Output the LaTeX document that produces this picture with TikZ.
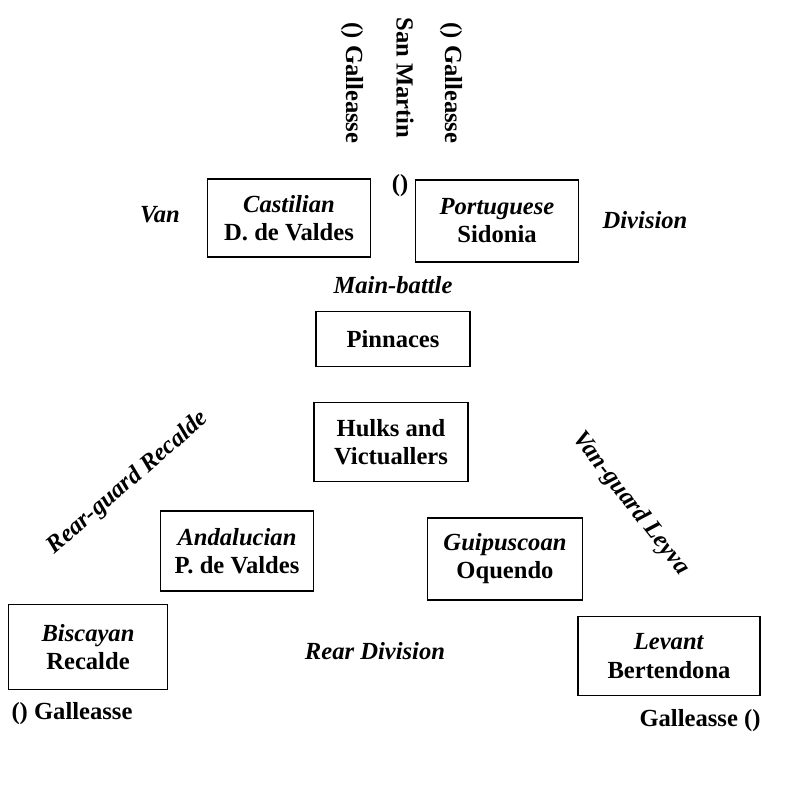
\documentclass[tikz,border=0pt]{standalone}
\usepackage{fontspec}
\setmainfont{Liberation Serif}
\usetikzlibrary{positioning}

\tikzset{
    squadron/.style={draw, line width=1.1pt, align=center, font=\bfseries\fontsize{14}{16}\selectfont, inner sep=2pt},
    wing/.style={font=\bfseries\itshape\fontsize{14}{16}\selectfont},
    ship/.style={font=\bfseries\fontsize{14}{16}\selectfont}
}

\begin{document}
\begin{tikzpicture}[x=0.02cm, y=-0.02cm]
    \useasboundingbox (0,0) rectangle (800,795);

    % Flagship and galleasses ahead
    \node[ship, rotate=-90] (galTL) at (352,83) {() Galleasse};
    \node[ship, rotate=-90] (flag) at (405,78) {San Martin};
    \node[ship, rotate=-90] (galTR) at (451,83) {() Galleasse};

    % Main-battle
    \node[squadron, minimum width=3.26cm, minimum height=1.56cm] (cast) at (289,218) {\textit{Castilian}\\D. de Valdes};
    \node[squadron, minimum width=3.26cm, minimum height=1.64cm] (port) at (497,221) {\textit{Portuguese}\\Sidonia};
    \node[ship] (gap) at (400,186) {()};
    \node[wing] (van) at (160,215) {Van};
    \node[wing] (divn) at (645,220) {Division};
    \node[wing] (main) at (393,285) {Main-battle};

    % Centre
    \node[squadron, minimum width=3.08cm, minimum height=1.1cm] (pinn) at (393,339) {Pinnaces};
    \node[squadron, minimum width=3.08cm, minimum height=1.58cm] (hulk) at (391,442) {Hulks and\\Victuallers};

    % Rear division
    \node[squadron, minimum width=3.06cm, minimum height=1.6cm] (anda) at (237,551) {\textit{Andalucian}\\P. de Valdes};
    \node[squadron, minimum width=3.1cm, minimum height=1.64cm] (guip) at (505,559) {\textit{Guipuscoan}\\Oquendo};
    \node[wing] (rear) at (375,651) {Rear Division};

    % Horns
    \node[squadron, minimum width=3.18cm, minimum height=1.7cm] (bisc) at (88,647) {\textit{Biscayan}\\Recalde};
    \node[squadron, minimum width=3.64cm, minimum height=1.58cm] (leva) at (669,656) {\textit{Levant}\\Bertendona};
    \node[wing, rotate=41] (rguard) at (128,483) {Rear-guard Recalde};
    \node[wing, rotate=-52] (vguard) at (631,504) {Van-guard Leyva};

    % Galleasses astern
    \node[ship] (galBL) at (72,714) {() Galleasse};
    \node[ship] (galBR) at (700,721) {Galleasse ()};
\end{tikzpicture}
\end{document}
